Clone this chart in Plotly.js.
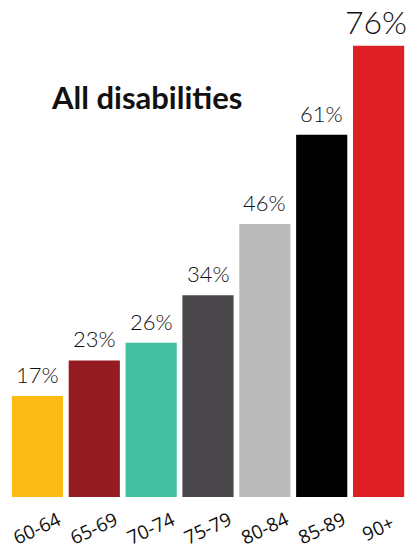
<!DOCTYPE html>
<html>
<head>
<meta charset="utf-8">
<script src="https://cdn.plot.ly/plotly-3.0.1.min.js"></script>
<style>html,body{margin:0;padding:0;background:#fff;}#chart{width:410px;height:550px;}</style>
</head>
<body>
<div id="chart"></div>
<script>
const categories = ["60-64", "65-69", "70-74", "75-79", "80-84", "85-89", "90+"];
const values = [17, 23, 26, 34, 46, 61, 76];
const barColors = ["#FDBB16", "#951B23", "#42BFA0", "#49474A", "#BBBBBB", "#000000", "#DE1F26"];
const labelSizes = [22, 22, 22, 22, 22, 22, 32];
const chartTitle = "All disabilities";

const trace = {
  type: "bar",
  x: categories,
  y: values,
  marker: {color: barColors},
  hoverinfo: "none"
};

const annotations = [];
categories.forEach((c, i) => {
  annotations.push({
    x: c, xref: "x", y: values[i], yref: "y",
    text: values[i] + "%", showarrow: false,
    font: {family: "Lato", size: labelSizes[i], color: "#111", weight: 300},
    xanchor: "center", yanchor: "bottom", yshift: i === 6 ? 3 : 6, xshift: i === 6 ? -3 : 0
  });
  annotations.push({
    x: c, xref: "x", y: -0.066, yref: "paper",
    text: c, showarrow: false, textangle: -25,
    font: {family: "Open Sans", size: 19, color: "#111"},
    xanchor: "center", yanchor: "middle"
  });
});
annotations.push({
  x: 0.345, xref: "paper", y: 0.842, yref: "paper",
  text: chartTitle, showarrow: false,
  font: {family: "Lato", size: 31, color: "#111", weight: 700},
  xanchor: "center", yanchor: "middle"
});

const layout = {
  width: 410, height: 550,
  margin: {l: 9, r: 3, t: 22, b: 53, autoexpand: false},
  paper_bgcolor: "#fff", plot_bgcolor: "#fff",
  bargap: 0.1,
  showlegend: false,
  xaxis: {range: [-0.5, 6.5], showticklabels: false, showgrid: false, zeroline: false, showline: false, ticks: "", fixedrange: true},
  yaxis: {range: [0, 80], visible: false, showgrid: false, zeroline: false},
  annotations: annotations
};

Plotly.newPlot("chart", [trace], layout, {displayModeBar: false, staticPlot: true});
</script>
</body>
</html>
